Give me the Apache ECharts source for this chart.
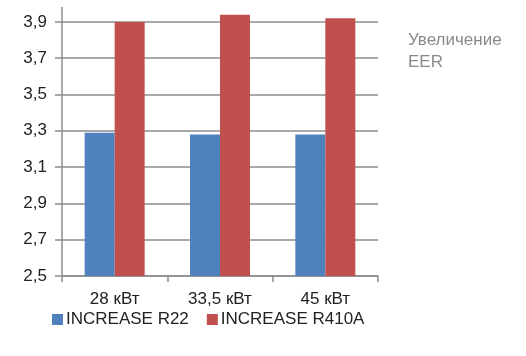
<!DOCTYPE html>
<html><head><meta charset="utf-8">
<script src="https://cdn.jsdelivr.net/npm/echarts@6/dist/echarts.min.js"></script>
<style>html,body{margin:0;padding:0;background:#fff}#c{width:526px;height:356px}</style>
</head><body><div id="c"></div>
<script>
const categories = ['28 кВт', '33,5 кВт', '45 кВт'];
const seriesNames = ['INCREASE R22', 'INCREASE R410A'];
const r22 = [3.29, 3.28, 3.28];
const r410a = [3.90, 3.94, 3.92];
const yTicks = [2.5, 2.7, 2.9, 3.1, 3.3, 3.5, 3.7, 3.9];
const sideNote = 'Увеличение\nEER';

const font = '"Liberation Sans", Arial, sans-serif';
const chart = echarts.init(document.getElementById('c'));
chart.setOption({
  animation: false,
  title: {
    text: sideNote, left: 408, top: 29, padding: 0,
    textStyle: {color: '#8a8a8a', fontSize: 17, fontWeight: 'normal', fontFamily: font, lineHeight: 22}
  },
  legend: {
    top: 306, left: 47, itemWidth: 11, itemHeight: 11, itemGap: 18, icon: 'rect',
    textStyle: {color: '#222', fontSize: 17, fontFamily: font, padding: [0,0,0,-2]},
    data: seriesNames
  },
  grid: {left: 62, right: 148, top: 7.4, bottom: 80},
  xAxis: {
    type: 'category', data: categories,
    axisLine: {lineStyle: {color: '#8c8c8c', width: 1.5}},
    axisTick: {show: true, length: 6, alignWithLabel: false, lineStyle: {color: '#8c8c8c', width: 1.5}},
    axisLabel: {color: '#222', fontSize: 17, fontFamily: font, margin: 15}
  },
  yAxis: {
    type: 'value', min: 2.5, max: 3.98,
    axisLine: {show: true, lineStyle: {color: '#8c8c8c', width: 1.5}},
    axisTick: {show: true, inside: false, length: 7, customValues: yTicks, lineStyle: {color: '#8c8c8c', width: 1.5}},
    axisLabel: {customValues: yTicks, color: '#222', fontSize: 17, fontFamily: font, margin: 15,
      formatter: v => v.toFixed(1).replace('.', ',')},
    splitLine: {show: true, lineStyle: {color: '#8c8c8c', width: 1.5}}
  },
  series: [
    {name: seriesNames[0], type: 'bar', data: r22, barWidth: 30, barGap: '0%',
     itemStyle: {color: '#4f81bd'}},
    {name: seriesNames[1], type: 'bar', data: r410a, barWidth: 30, barGap: '0%',
     itemStyle: {color: '#c0504d'}}
  ]
});
</script></body></html>
